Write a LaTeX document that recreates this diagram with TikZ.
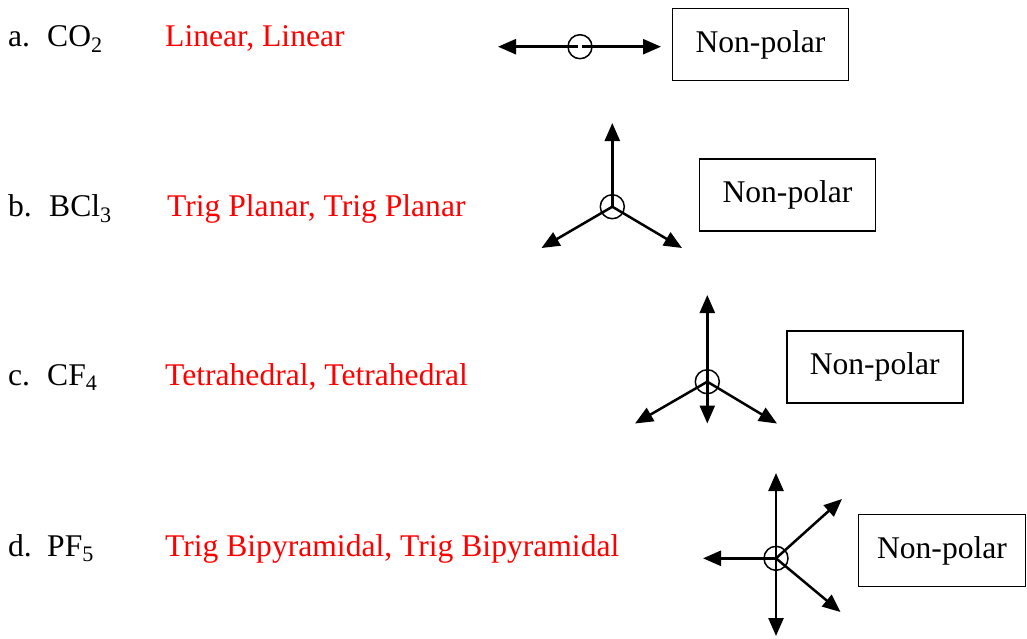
\documentclass[tikz,border=0pt]{standalone}
\usepackage{fontspec}
\setmainfont{Liberation Serif}
\usetikzlibrary{arrows.meta}
\definecolor{ansred}{RGB}{255,0,0}
\tikzset{
  txt/.style={anchor=base west, inner sep=0pt, font=\fontsize{31.6}{38}\selectfont},
  ans/.style={txt, text=ansred},
  polbox/.style={draw, line width=1.9pt, minimum width=176pt, minimum height=72pt, inner sep=0pt, font=\fontsize{31.6}{38}\selectfont},
  atom/.style={draw, circle, line width=1.5pt, minimum size=24pt, inner sep=0pt},
  vec/.style={line width=2.5pt, -{Triangle[length=18pt, width=15pt]}}
}
\begin{document}
\begin{tikzpicture}[x=1pt, y=-1pt]
\useasboundingbox (0,0) rectangle (1027,638);
% Row a
\node[txt] (la) at (8,46) {a.};
\node[txt] (fa) at (47,46) {CO\textsubscript{2}};
\node[ans] (sa) at (165,46) {Linear, Linear};
\node[atom] (ca) at (580,46.7) {};
\coordinate (a1) at (498,46.7);
\coordinate (a2) at (661,46.7);
\draw[vec] ([xshift=-2pt]ca.center) -- (a1);
\draw[vec] ([xshift=2pt]ca.center) -- (a2);
\node[polbox] (pa) at (760.5,44.5) {Non-polar};
% Row b
\node[txt] (lb) at (8,216) {b.};
\node[txt] (fb) at (49,216) {BCl\textsubscript{3}};
\node[ans] (sb) at (167,216) {Trig Planar, Trig Planar};
\node[atom] (cb) at (612.3,206.7) {};
\coordinate (b1) at (612.3,123);
\coordinate (b2) at (541.5,248);
\coordinate (b3) at (682,248);
\draw[vec] (cb.center) -- (b1);
\draw[vec] (cb.center) -- (b2);
\draw[vec] (cb.center) -- (b3);
\node[polbox] (pb) at (787.5,195) {Non-polar};
% Row c
\node[txt] (lc) at (8,385) {c.};
\node[txt] (fc) at (47,385) {CF\textsubscript{4}};
\node[ans] (sc) at (165,385) {Tetrahedral, Tetrahedral};
\node[atom] (cc) at (707.3,381.7) {};
\coordinate (c1) at (707.3,295);
\coordinate (c2) at (635,423.5);
\coordinate (c3) at (707.3,423.5);
\coordinate (c4) at (777,423.5);
\draw[vec] (cc.center) -- (c1);
\draw[vec] (cc.center) -- (c2);
\draw[vec] (cc.center) -- (c3);
\draw[vec] (cc.center) -- (c4);
\node[polbox] (pc) at (874.7,367) {Non-polar};
% Row d
\node[txt] (ld) at (8,556) {d.};
\node[txt] (fd) at (47,556) {PF\textsubscript{5}};
\node[ans] (sd) at (165,556) {Trig Bipyramidal, Trig Bipyramidal};
\node[atom] (cd) at (776,558.3) {};
\coordinate (d1) at (776,473);
\coordinate (d2) at (776,636);
\coordinate (d3) at (703,558.3);
\coordinate (d4) at (842,499);
\coordinate (d5) at (840.5,612);
\draw[vec] (cd.center) -- (d1);
\draw[vec] (cd.center) -- (d2);
\draw[vec] (cd.center) -- (d3);
\draw[vec] (cd.center) -- (d4);
\draw[vec] (cd.center) -- (d5);
\node[polbox, minimum width=167pt] (pd) at (942,550.5) {Non-polar};
\end{tikzpicture}
\end{document}
